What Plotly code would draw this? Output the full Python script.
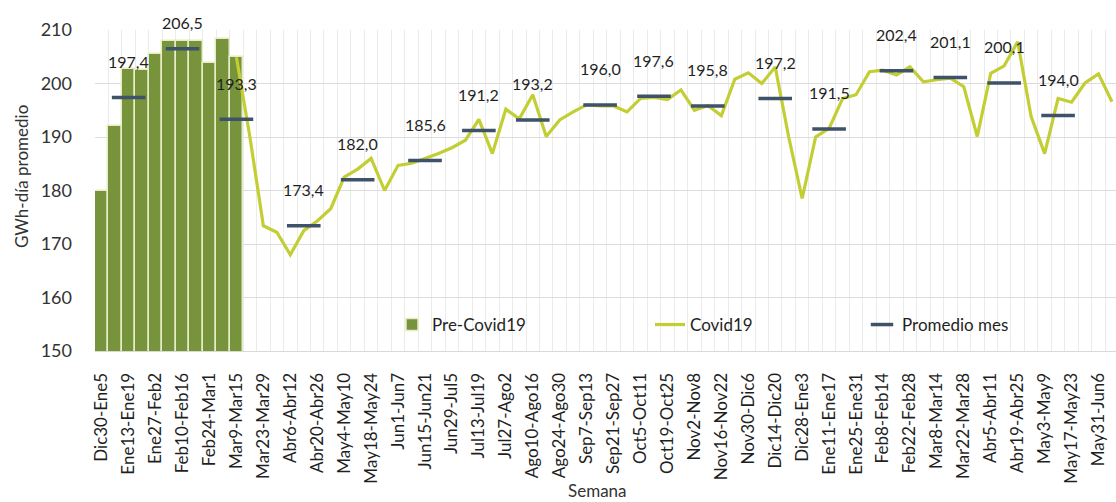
import plotly.graph_objects as go

# ---------------- data ----------------
tick_labels = ["Dic30-Ene5", "Ene13-Ene19", "Ene27-Feb2", "Feb10-Feb16", "Feb24-Mar1",
               "Mar9-Mar15", "Mar23-Mar29", "Abr6-Abr12", "Abr20-Abr26", "May4-May10",
               "May18-May24", "Jun1-Jun7", "Jun15-Jun21", "Jun29-Jul5", "Jul13-Jul19",
               "Jul27-Ago2", "Ago10-Ago16", "Ago24-Ago30", "Sep7-Sep13", "Sep21-Sep27",
               "Oct5-Oct11", "Oct19-Oct25", "Nov2-Nov8", "Nov16-Nov22", "Nov30-Dic6",
               "Dic14-Dic20", "Dic28-Ene3", "Ene11-Ene17", "Ene25-Ene31", "Feb8-Feb14",
               "Feb22-Feb28", "Mar8-Mar14", "Mar22-Mar28", "Abr5-Abr11", "Abr19-Abr25",
               "May3-May9", "May17-May23", "May31-Jun6"]

pre_weeks = list(range(0, 11))
pre_values = [180.0, 192.1, 202.7, 202.5, 205.6, 207.9, 207.9, 207.9, 203.8, 208.3, 204.9]

covid_weeks = list(range(10, 76))
covid_values = [204.9, 190.0, 173.4, 172.2, 168.0, 172.5, 174.3, 176.6, 182.5, 184.0,
                186.0, 180.0, 184.7, 185.1, 186.0, 186.9, 188.0, 189.4, 193.3, 186.9,
                195.2, 193.4, 197.9, 190.1, 193.2, 194.7, 196.0, 195.8, 195.8, 194.7,
                197.2, 197.4, 197.0, 198.8, 195.0, 195.9, 194.0, 200.8, 202.0, 200.0,
                203.1, 190.0, 178.5, 190.0, 191.6, 197.2, 197.9, 202.2, 202.5, 201.6,
                203.1, 200.3, 200.7, 201.0, 199.4, 190.1, 201.9, 203.3, 207.8, 193.8,
                186.9, 197.2, 196.5, 200.1, 201.8, 196.6]

month_weeks = [2, 6, 10, 15, 19, 24, 28, 32, 37, 41, 45, 50, 54, 59, 63, 67, 71]
month_avg = [197.4, 206.5, 193.3, 173.4, 182.0, 185.6, 191.2, 193.2, 196.0, 197.6,
             195.8, 197.2, 191.5, 202.4, 201.1, 200.1, 194.0]

# ---------------- styling ----------------
FONT = "Lato"
BAR_COLOR = "#77933C"
LINE_COLOR = "#C3CE34"
DASH_COLOR = "#3E5269"
TXT = "#333333"

fig = go.Figure()

fig.add_trace(go.Bar(
    x=pre_weeks, y=pre_values, name="Pre-Covid19",
    marker=dict(color=BAR_COLOR, line=dict(color="#E6EDC4", width=1.5)),
    width=1.0, legend="legend", showlegend=True,
))

fig.add_trace(go.Scatter(
    x=covid_weeks, y=covid_values, name="Covid19", mode="lines",
    line=dict(color=LINE_COLOR, width=3.2), legend="legend2", showlegend=True,
))

fig.add_trace(go.Scatter(
    x=month_weeks, y=month_avg, name="Promedio mes", mode="markers",
    marker=dict(symbol="line-ew", size=24, line=dict(color=DASH_COLOR, width=3.5)),
    legend="legend3", showlegend=True,
))

# data labels for monthly averages
for xw, v in zip(month_weeks, month_avg):
    fig.add_annotation(
        x=xw, y=v, text=f"{v:.1f}".replace(".", ","), showarrow=False,
        yshift=36 if v < 205 else 26, xanchor="center", yanchor="middle",
        font=dict(family=FONT, size=16, color="#1F1F1F"),
    )

W, H = 1116, 502
L, R, T, B = 95, 0, 30, 151
pw = W - L - R
ph = H - T - B

def px_x(p):
    return (p - L) / pw

def px_y(p):
    return (H - B - p) / ph

# axis titles
fig.add_annotation(
    x=px_x(21), y=px_y(177), xref="paper", yref="paper", text="GWh-día promedio",
    textangle=-90, showarrow=False, xanchor="center", yanchor="middle",
    font=dict(family=FONT, size=17, color=TXT),
)
fig.add_annotation(
    x=px_x(597), y=px_y(490), xref="paper", yref="paper", text="Semana",
    showarrow=False, xanchor="center", yanchor="middle",
    font=dict(family=FONT, size=17, color=TXT),
)

legend_common = dict(orientation="h", yanchor="middle", y=px_y(325), xanchor="left",
                     bgcolor="rgba(0,0,0,0)", font=dict(family=FONT, size=17, color="#1F1F1F"))

fig.update_layout(
    width=W, height=H,
    margin=dict(l=L, r=R, t=T, b=B, autoexpand=False),
    paper_bgcolor="white", plot_bgcolor="white",
    bargap=0, showlegend=True,
    legend=dict(x=px_x(392), **legend_common),
    legend2=dict(x=px_x(650), **legend_common),
    legend3=dict(x=px_x(862), **legend_common),
    xaxis=dict(
        range=[-0.5, 75.3], tickmode="array",
        tickvals=list(range(0, 2 * len(tick_labels), 2)), ticktext=tick_labels,
        tickangle=-90, showgrid=False, zeroline=False,
        tickfont=dict(family=FONT, size=17, color="#1F1F1F"),
        ticks="", ticklabelstandoff=14,
        showline=True, linecolor="#D9D9D9", linewidth=1,
        minor=dict(tickmode="linear", tick0=-0.5, dtick=1, showgrid=True,
                   gridcolor="#EBEBEB", gridwidth=1, ticks=""),
    ),
    yaxis=dict(
        range=[150, 210], tickmode="linear", tick0=150, dtick=10,
        showgrid=True, gridcolor="#DCDCDC", gridwidth=1, zeroline=False,
        tickfont=dict(family=FONT, size=18, color=TXT),
        ticks="", ticklabelstandoff=22,
    ),
)

fig.write_html("out.html")
